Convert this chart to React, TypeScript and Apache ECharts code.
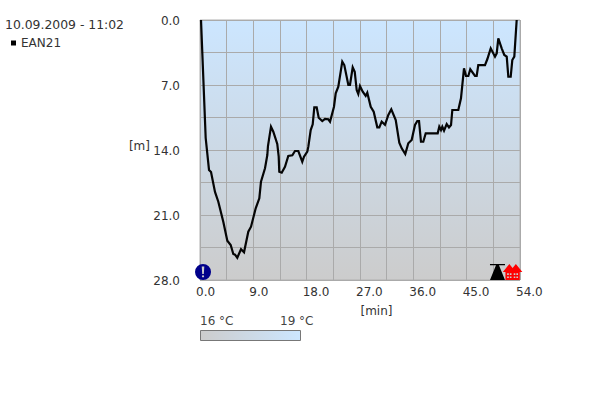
import React, { useEffect, useRef } from "react";
import * as echarts from "echarts";

const timeMin = [0.17,0.96,1.52,1.86,2.53,3.09,3.93,4.61,5.18,5.62,5.91,6.29,6.92,7.43,8.15,8.61,9.4,10.01,10.29,10.97,11.36,11.47,11.98,12.37,13.04,13.28,13.38,13.79,14.34,14.9,15.58,16.03,16.59,17.26,17.55,18.11,18.28,18.68,19.02,19.29,19.69,20.03,20.64,21.09,21.65,21.94,22.61,22.9,23.34,24.01,24.35,25.03,25.31,25.77,26.11,26.44,26.71,27.0,27.46,27.96,28.23,28.81,29.31,29.92,30.26,30.66,31.22,31.78,32.28,33.03,33.63,34.04,34.64,35.15,35.72,36.28,36.67,36.96,37.29,37.68,38.09,40.11,40.38,40.67,40.89,41.18,41.63,42.02,42.36,42.58,43.59,44.04,44.55,44.89,45.28,45.61,46.41,46.69,46.96,48.09,48.48,49.06,49.78,50.07,50.34,50.91,51.35,51.76,52.03,52.43,52.7,53.04,53.44];
const depthM = [0,12.71,16.15,16.37,18.52,19.57,21.72,23.77,24.23,25.2,25.27,25.6,24.69,25.02,22.8,22.26,20.28,19.2,17.41,15.97,14.54,13.57,11.49,12.03,13.35,14.72,16.34,16.44,15.8,14.65,14.57,14.11,14.11,15.26,14.72,14.18,13.64,11.85,11.23,9.4,9.4,10.52,10.88,10.66,10.69,10.95,9.34,7.89,7.18,4.49,4.85,7.0,7.0,5.09,5.57,7.54,7.97,7.11,7.72,8.18,7.83,9.34,9.88,11.56,11.56,10.95,11.28,10.23,9.62,10.77,13.21,13.82,14.43,13.28,12.92,11.31,10.88,10.88,13.11,13.11,12.2,12.2,11.49,11.85,11.49,11.92,11.2,11.56,11.31,9.69,9.69,8.43,5.2,6.03,6.03,5.31,6.03,6.03,4.85,4.85,4.23,3.05,3.95,3.59,1.97,3.05,3.77,3.95,6.11,6.11,4.31,3.95,0];
const seriesName = "EAN21";
const titleText = "10.09.2009 - 11:02";
const tempLabels = ["16 °C", "19 °C"];
const infoMarker = [[0.51, 27.14]];
const ascentMarker = [[50.2, 27.14]];
const warnMarkers = [[52.2, 27.14], [53.3, 27.14]];

const infoPath = "path://M50 0A50 50 0 1 1 50 100A50 50 0 1 1 50 0ZM42 15L45 62L55 62L58 15ZM50 70A7 7 0 1 0 50 84A7 7 0 1 0 50 70Z";
const ascentPath = "path://M0 0L100 0L100 8L60 8L100 100L0 100L40 8L0 8Z";
const warnPath = "path://M50 0L100 50L80 50L80 100L20 100L20 50L0 50ZM33 58L33 68L46 68L46 58ZM54 58L54 68L67 68L67 58ZM33 78L33 88L46 88L46 78ZM54 78L54 88L67 88L67 78Z";

const FONT = "DejaVu Sans";
const TXT = "#333333";

export default function App() {
  const ref = useRef<HTMLDivElement>(null);
  useEffect(() => {
    const chart = echarts.init(ref.current!, undefined, { renderer: "svg" });
    chart.setOption({
      animation: false,
      textStyle: { fontFamily: FONT },
      title: {
        text: titleText, left: 5, top: 18, padding: 0,
        textStyle: { fontFamily: FONT, fontSize: 12.4, fontWeight: "normal", color: TXT },
      },
      legend: {
        data: [{ name: seriesName, icon: "rect" }], left: 11, top: 37, itemWidth: 5, itemHeight: 5,
        padding: 0,
        textStyle: { fontFamily: FONT, fontSize: 12, color: TXT },
      },
      grid: {
        left: 200, top: 20, width: 320, height: 260, show: true, borderWidth: 1, borderColor: "#b0b0b0",
        backgroundColor: new echarts.graphic.LinearGradient(0, 0, 0, 1, [
          { offset: 0, color: "#cce6ff" },
          { offset: 1, color: "#cccccc" },
        ]),
      },
      xAxis: {
        type: "value", min: 0, max: 54, interval: 4.5,
        name: "[min]", nameLocation: "middle", nameGap: 25, nameMoveOverlap: false,
        nameTextStyle: { fontFamily: FONT, fontSize: 12, color: TXT, padding: [0, 0, 0, 33] },
        axisLine: { show: false }, axisTick: { show: false },
        splitLine: { show: true, lineStyle: { color: "#aaaaaa", width: 1 } },
        axisLabel: {
          margin: 6, fontFamily: FONT, fontSize: 12, color: TXT, align: "left", showMinLabel: true, showMaxLabel: true,
          padding: [0, 0, 0, -4],
          formatter: (v: number) => (Math.abs(v / 9 - Math.round(v / 9)) < 1e-6 ? v.toFixed(1) : ""),
        },
      },
      yAxis: {
        type: "value", inverse: true, min: 0, max: 28, interval: 3.5,
        name: "{a|[m]}", nameLocation: "middle", nameGap: 50, nameRotate: 0, nameMoveOverlap: false,
        nameTextStyle: {
          fontFamily: FONT, fontSize: 12, color: TXT,
          rich: { a: { fontFamily: FONT, fontSize: 12, color: TXT, padding: [0, 0, 9, 0] } },
        },
        axisLine: { show: false }, axisTick: { show: false },
        splitLine: { show: true, lineStyle: { color: "#aaaaaa", width: 1 } },
        axisLabel: {
          margin: 20, fontFamily: FONT, fontSize: 12, color: TXT,
          formatter: (v: number) => (Math.abs(v / 7 - Math.round(v / 7)) < 1e-6 ? "{a|" + v.toFixed(1) + "}" : ""),
          rich: { a: { fontFamily: FONT, fontSize: 12, color: TXT, padding: [2, 0, 0, 0] } },
        },
      },
      series: [
        {
          name: seriesName, type: "line", showSymbol: false, symbol: "none", clip: false,
          itemStyle: { color: "#000000" },
          lineStyle: { color: "#050505", width: 2.2, join: "miter" },
          data: timeMin.map((t, i) => [t, depthM[i]]),
        },
        { type: "scatter", clip: false, symbol: infoPath, symbolSize: 16, itemStyle: { color: "#00008b", opacity: 1 }, data: infoMarker },
        { type: "scatter", clip: false, symbol: ascentPath, symbolSize: [15, 16], itemStyle: { color: "#000000", opacity: 1 }, data: ascentMarker },
        { type: "scatter", clip: false, symbol: warnPath, symbolSize: [13, 16], itemStyle: { color: "#ff0000", opacity: 1 }, data: warnMarkers },
      ],
      graphic: [
        { type: "text", left: 200, top: 315, style: { text: tempLabels[0], fontFamily: FONT, fontSize: 12, fill: "#444" } },
        { type: "text", left: 280, top: 315, style: { text: tempLabels[1], fontFamily: FONT, fontSize: 12, fill: "#444" } },
        {
          type: "rect", shape: { x: 200.5, y: 330.5, width: 100, height: 10 },
          style: {
            stroke: "#777",
            lineWidth: 1,
            fill: new echarts.graphic.LinearGradient(0, 0, 1, 0, [
              { offset: 0, color: "#cccccc" },
              { offset: 1, color: "#cce6ff" },
            ]),
          },
        },
      ],
    });
    return () => chart.dispose();
  }, []);
  return <div ref={ref} style={{ position: "absolute", left: 0, top: 0, width: 600, height: 400 }} />;
}
